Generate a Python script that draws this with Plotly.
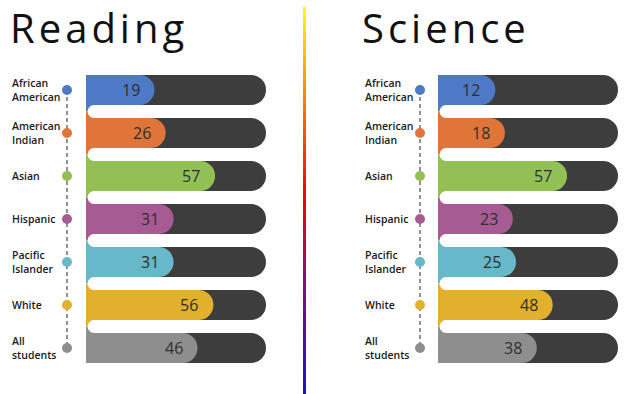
import plotly.graph_objects as go

# ---------------- data ----------------
categories = ["African<br>American", "American<br>Indian", "Asian", "Hispanic",
              "Pacific<br>Islander", "White", "All<br>students"]
reading = [19, 26, 57, 31, 31, 56, 46]
science = [12, 18, 57, 23, 25, 48, 38]
titles = ["Reading", "Science"]
colors = ["#4e79c6", "#e07539", "#93c054", "#a65b93", "#67b8c8", "#e2b02c", "#8e8e8e"]

# ---------------- styling constants ----------------
W, H = 630, 394
BASE = -24          # axis value where the bars begin
TRACK_END = 89      # axis value where the dark track ends
TRACK = "#3d3d3d"
ROW0, ROWSTEP = 90, 43   # pixel centre of first row, pixel step
BARW = 0.7

rows = list(range(len(categories)))
y_top = -ROW0 / ROWSTEP
y_bot = (H - ROW0) / ROWSTEP

panels = [
    dict(vals=reading, title=titles[0], xa="x", xv="x6", dxa="x3", bar_left=86,
         label_x=10, title_x=10),
    dict(vals=science, title=titles[1], xa="x2", xv="x7", dxa="x4", bar_left=438,
         label_x=363, title_x=362),
]

fig = go.Figure()
annotations = []
shapes = []

for p in panels:
    vals = p["vals"]
    # dark track (axis starts at 0 = BASE offset)
    fig.add_trace(go.Bar(x=[TRACK_END - BASE] * len(rows), y=rows, orientation="h",
                         width=BARW, marker=dict(color=TRACK, line=dict(width=0),
                                                 cornerradius="50%"),
                         xaxis=p["xa"], yaxis="y", hoverinfo="skip"))
    # coloured value bar (own overlaid axis so it gets its own rounded end)
    fig.add_trace(go.Bar(x=[v - BASE for v in vals], y=rows, orientation="h",
                         width=BARW, marker=dict(color=colors, line=dict(width=0),
                                                 cornerradius="50%"),
                         xaxis=p["xv"], yaxis="y", hoverinfo="skip"))
    # dashed guide + dots
    fig.add_trace(go.Scatter(x=[0] * len(rows), y=rows, mode="lines",
                             line=dict(color="#4a4a4a", width=1.2, dash="4px,3px"),
                             xaxis=p["dxa"], yaxis="y", hoverinfo="skip", cliponaxis=False))
    fig.add_trace(go.Scatter(x=[0] * len(rows), y=rows, mode="markers",
                             marker=dict(color=colors, size=10, line=dict(width=0)),
                             xaxis=p["dxa"], yaxis="y", hoverinfo="skip", cliponaxis=False))
    # value labels
    for r, v in zip(rows, vals):
        annotations.append(dict(x=v - BASE, y=r, xref=p["xa"], yref="y", text=str(v),
                                showarrow=False, xanchor="right", xshift=-13,
                                font=dict(family="Open Sans", size=16, color="#2e2e2e")))
    # category labels
    for r, c in zip(rows, categories):
        annotations.append(dict(x=p["label_x"] / W, y=r, xref="paper", yref="y", text=c,
                                showarrow=False, xanchor="left", align="left",
                                font=dict(family="Open Sans", size=10.5, color="#1a1a1a",
                                          weight=600)))
    # title
    annotations.append(dict(x=p["title_x"] / W, y=1 - 27 / H, xref="paper", yref="paper",
                            text="\u200a".join(p["title"]), showarrow=False, xanchor="left",
                            yanchor="middle", xshift=-2,
                            font=dict(family="Open Sans", size=40, color="#111111")))
    # left-edge joins between bars (pixel geometry)
    L = p["bar_left"]
    half = BARW * ROWSTEP / 2
    r_px = (1 - BARW) * ROWSTEP / 2
    for i in rows[:-1]:
        c_top = ROW0 + ROWSTEP * i + half
        c_mid = ROW0 + ROWSTEP * (i + 0.5)
        c_bot = ROW0 + ROWSTEP * (i + 1) - half
        shapes.append(dict(type="rect", xref="paper", yref="paper", x0=L / W, x1=(L + 8) / W,
                           y0=1 - c_mid / H, y1=1 - (c_top - 0.5) / H,
                           fillcolor=colors[i], line=dict(width=0)))
        shapes.append(dict(type="rect", xref="paper", yref="paper", x0=L / W, x1=(L + 8) / W,
                           y0=1 - (c_bot + 0.5) / H, y1=1 - c_mid / H,
                           fillcolor=colors[i + 1], line=dict(width=0)))
        shapes.append(dict(type="circle", xref="paper", yref="paper",
                           x0=(L + 8 - r_px) / W, x1=(L + 8 + r_px) / W,
                           y0=1 - (c_mid + r_px) / H, y1=1 - (c_mid - r_px) / H,
                           fillcolor="white", line=dict(width=0)))

# gradient divider
fig.add_trace(go.Scatter(x=[0, 1, 1, 0, 0], y=[0, 0, 1, 1, 0], mode="none", fill="toself",
                         fillgradient=dict(type="vertical", start=0, stop=1,
                                           colorscale=[[0, "#1a10c8"], [0.28, "#820f80"],
                                                       [0.52, "#ff0000"], [0.78, "#ff8a00"],
                                                       [1, "#ffff00"]]),
                         xaxis="x5", yaxis="y5", hoverinfo="skip"))

hidden = dict(visible=False, fixedrange=True)
rng = [0, TRACK_END - BASE]
fig.update_layout(
    width=W, height=H, autosize=False,
    margin=dict(l=0, r=0, t=0, b=0),
    paper_bgcolor="white", plot_bgcolor="rgba(0,0,0,0)",
    showlegend=False, barmode="overlay", hovermode=False,
    xaxis=dict(domain=[86 / W, 266 / W], range=rng, anchor="y", **hidden),
    xaxis2=dict(domain=[438 / W, 618 / W], range=rng, anchor="y", **hidden),
    xaxis6=dict(domain=[86 / W, 266 / W], range=rng, anchor="y", overlaying="x", **hidden),
    xaxis7=dict(domain=[438 / W, 618 / W], range=rng, anchor="y", overlaying="x2", **hidden),
    xaxis3=dict(domain=[62 / W, 72 / W], range=[-1, 1], anchor="y", **hidden),
    xaxis4=dict(domain=[415 / W, 425 / W], range=[-1, 1], anchor="y", **hidden),
    xaxis5=dict(domain=[303 / W, 306 / W], range=[0, 1], anchor="y5", **hidden),
    yaxis=dict(domain=[0, 1], range=[y_bot, y_top], anchor="x", **hidden),
    yaxis5=dict(domain=[0, 1 - 7 / H], range=[0, 1], anchor="x5", **hidden),
    annotations=annotations,
    shapes=shapes,
)

fig.write_html("out.html", config={"displayModeBar": False},
               post_script="document.body.style.margin='0';document.body.style.padding='0';")
